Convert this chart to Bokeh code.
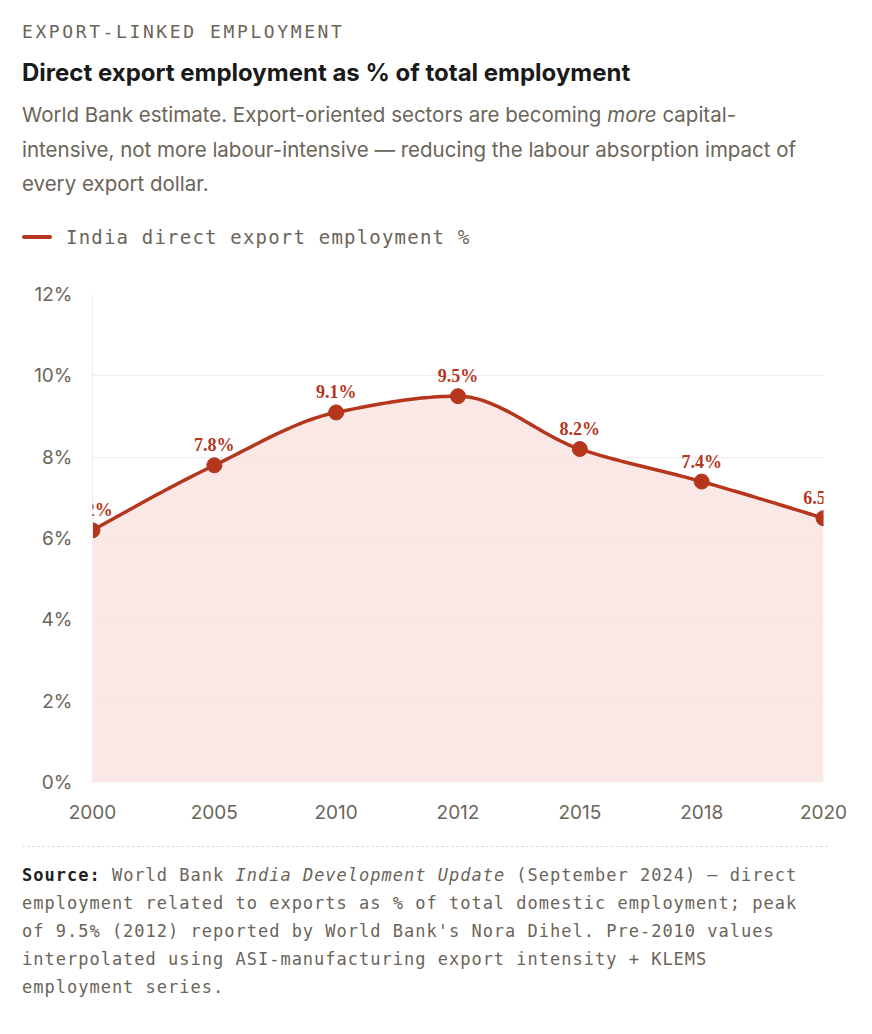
import numpy as np
from bokeh.plotting import figure
from bokeh.models import Div, FixedTicker, ColumnDataSource, LabelSet
from bokeh.layouts import column
from bokeh.embed import file_html
from bokeh.resources import INLINE

years = ["2000", "2005", "2010", "2012", "2015", "2018", "2020"]
shares = [6.2, 7.8, 9.1, 9.5, 8.2, 7.4, 6.5]
labels = ["6.2%", "7.8%", "9.1%", "9.5%", "8.2%", "7.4%", "6.5%"]
y_ticks = [0, 2, 4, 6, 8, 10, 12]

RED = "#b5361c"
MONO = "'DejaVu Sans Mono', 'Liberation Mono', monospace"
SANS = "'Inter', 'Open Sans', sans-serif"

def monotone(xs, ys, n=30):
    xs = np.asarray(xs, float); ys = np.asarray(ys, float)
    h = np.diff(xs); d = np.diff(ys) / h
    m = np.zeros(len(xs))
    for i in range(1, len(xs) - 1):
        if d[i-1] * d[i] <= 0:
            m[i] = 0
        else:
            m[i] = 3 * (h[i-1] + h[i]) / ((2*h[i] + h[i-1]) / d[i-1] + (h[i] + 2*h[i-1]) / d[i])
    m[0] = (3*d[0] - m[1]) / 2
    m[-1] = (3*d[-1] - m[-2]) / 2
    X, Y = [], []
    for i in range(len(xs) - 1):
        t = np.linspace(0, 1, n, endpoint=(i == len(xs) - 2))
        h00 = 2*t**3 - 3*t**2 + 1; h10 = t**3 - 2*t**2 + t
        h01 = -2*t**3 + 3*t**2; h11 = t**3 - t**2
        X.extend(xs[i] + t*h[i])
        Y.extend(h00*ys[i] + h10*h[i]*m[i] + h01*ys[i+1] + h11*h[i]*m[i+1])
    return np.array(X), np.array(Y)

idx = list(range(len(years)))
cx, cy = monotone(idx, shares)

header = Div(margin=0, width=856, height=270, text=f"""
<div style="padding-left:22px;width:825px">
<div style="font-family:{MONO};font-size:18px;letter-spacing:2.6px;color:#6b6459;margin-top:20px;line-height:24px">EXPORT-LINKED EMPLOYMENT</div>
<div style="font-family:{SANS};font-size:24px;font-weight:700;color:#1a1a1a;margin-top:14px;line-height:30px">Direct export employment as % of total employment</div>
<div style="font-family:{SANS};font-size:20.5px;line-height:34.5px;color:#6b6459;margin-top:10px">World Bank estimate. Export-oriented sectors are becoming <i>more</i> capital-intensive, not more labour-intensive — reducing the labour absorption impact of every export dollar.</div>
<div style="font-family:{MONO};font-size:19px;letter-spacing:1.2px;color:#6b6459;margin-top:22px;display:flex;align-items:center"><span style="display:inline-block;width:30px;height:4px;background:{RED};border-radius:2px;margin-right:14px"></span>India direct export employment %</div>
</div>""")

p = figure(width=856, height=574, x_range=(0, 6), y_range=(0, 12),
           output_backend="svg", toolbar_location=None,
           min_border_left=92, min_border_right=33, min_border_top=24, min_border_bottom=62)
p.outline_line_color = None
p.varea(x=cx, y1=0, y2=cy, fill_color="#f8e4e2", fill_alpha=0.85)
p.line(cx, cy, line_color=RED, line_width=3.5)
src = ColumnDataSource(dict(x=idx, y=shares, t=labels))
p.scatter("x", "y", source=src, size=15, fill_color=RED, line_color=RED)
p.add_layout(LabelSet(x="x", y="y", text="t", source=src, text_align="center",
                      text_baseline="bottom", y_offset=10, text_font="DejaVu Sans Mono",
                      text_font_style="bold", text_font_size="18px", text_color=RED))

p.xaxis.ticker = FixedTicker(ticks=idx)
p.xaxis.major_label_overrides = {i: y for i, y in zip(idx, years)}
p.yaxis.ticker = FixedTicker(ticks=y_ticks)
p.yaxis.major_label_overrides = {v: f"{v}%" for v in y_ticks}
for ax in (p.xaxis[0], p.yaxis[0]):
    ax.major_tick_line_color = None
    ax.minor_tick_line_color = None
    ax.major_label_text_font = "Inter"
    ax.major_label_text_font_size = "19px"
    ax.major_label_text_color = "#6b6459"
p.xaxis.axis_line_color = None
p.yaxis.axis_line_color = "#eeeeee"
p.xaxis.major_label_standoff = 16
p.yaxis.major_label_standoff = 14
p.xgrid.grid_line_color = None
p.ygrid.grid_line_color = "#eeeeee"

footer = Div(margin=0, width=856, text=f"""
<div style="padding-left:22px;width:828px">
<div style="border-top:1.5px dashed #dddddd;margin-top:2px;margin-bottom:14px"></div>
<div style="font-family:{MONO};font-size:17px;letter-spacing:1px;line-height:28px;color:#6b6459"><b style="color:#222">Source:</b> World Bank <i>India Development Update</i> (September 2024) — direct employment related to exports as % of total domestic employment; peak of 9.5% (2012) reported by World Bank's Nora Dihel. Pre-2010 values interpolated using ASI-manufacturing export intensity + KLEMS employment series.</div>
</div>""")

layout = column(header, p, footer, spacing=0)
open("out.html", "w").write(file_html(layout, INLINE))
